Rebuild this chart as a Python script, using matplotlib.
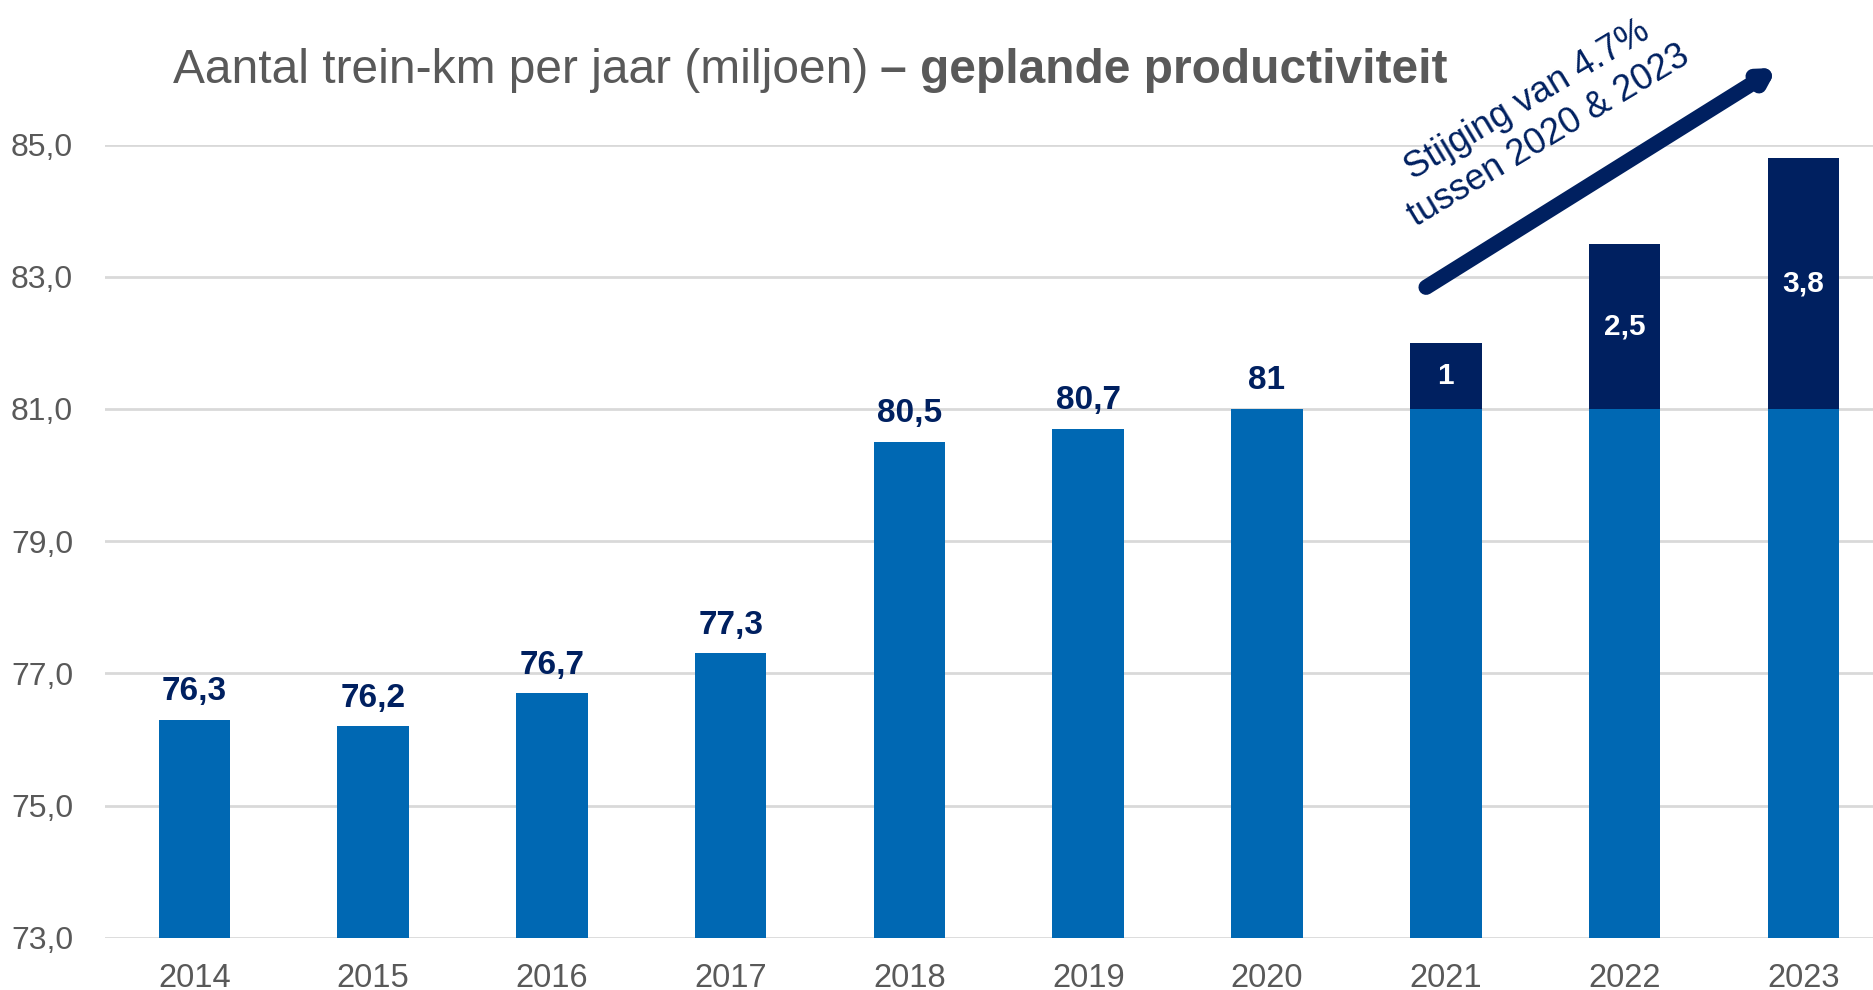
import matplotlib
matplotlib.use("Agg")
import matplotlib.pyplot as plt

# ---- data ----
years = ["2014", "2015", "2016", "2017", "2018", "2019", "2020", "2021", "2022", "2023"]
base_values = [76.3, 76.2, 76.7, 77.3, 80.5, 80.7, 81.0, 81.0, 81.0, 81.0]
extra_values = [0, 0, 0, 0, 0, 0, 0, 1.0, 2.5, 3.8]
base_labels = ["76,3", "76,2", "76,7", "77,3", "80,5", "80,7", "81", "", "", ""]
extra_labels = ["", "", "", "", "", "", "", "1", "2,5", "3,8"]
y_ticks = [73, 75, 77, 79, 81, 83, 85]
y_tick_labels = ["73,0", "75,0", "77,0", "79,0", "81,0", "83,0", "85,0"]

title_normal = "Aantal trein-km per jaar (miljoen)"
title_bold = "– geplande productiviteit"
arrow_text = "Stijging van 4.7%\ntussen 2020 & 2023"

BLUE = "#0068B3"
NAVY = "#002060"
GRAY = "#595959"
GRID = "#D9D9D9"

plt.rcParams['font.family'] = ['Liberation Sans', 'DejaVu Sans']

W, H = 1873, 990
fig = plt.figure(figsize=(W / 100, H / 100), dpi=100)
ax = fig.add_axes([105 / W, 1 - 937.7 / H, 1 - 105 / W, (937.7 - 144.5) / H])

x = list(range(len(years)))
ax.bar(x, [b - 73 for b in base_values], bottom=73, width=0.4, color=BLUE, zorder=3)
ax.bar(x, extra_values, bottom=base_values, width=0.4, color=NAVY, zorder=3)

ax.set_xlim(-0.5, 9.39)
ax.set_ylim(73, 85)
ax.set_yticks(y_ticks)
ax.set_yticklabels(y_tick_labels)
ax.set_xticks(x)
ax.set_xticklabels(years)
ax.tick_params(axis='both', length=0, labelsize=23.5, colors=GRAY)
ax.tick_params(axis='y', labelsize=23, pad=23)
ax.tick_params(axis='x', pad=18)
for s in ax.spines.values():
    s.set_visible(False)
ax.yaxis.grid(True, color=GRID, linewidth=2, zorder=0)
ax.set_axisbelow(True)

for xi, v, lab in zip(x, base_values, base_labels):
    if lab:
        ax.annotate(lab, (xi, v), xytext=(0, 9), textcoords='offset points',
                    ha='center', va='bottom', fontsize=24, fontweight='bold', color=NAVY)
for xi, b, e, lab in zip(x, base_values, extra_values, extra_labels):
    if lab:
        ax.text(xi, b + e / 2, lab, ha='center', va='center', fontsize=21.5,
                fontweight='bold', color='white', zorder=4)

# arrow
ax.annotate("", xy=(8.855, 86.16), xytext=(6.89, 82.84),
            arrowprops=dict(arrowstyle='-|>,head_length=0.7,head_width=0.4',
                            color=NAVY, lw=11, shrinkA=0, shrinkB=0),
            annotation_clip=False, zorder=5)
fig.text(1538 / W, 1 - 118 / H, arrow_text, rotation=31, ha='center', va='center',
         rotation_mode='anchor', fontsize=26, color=NAVY, linespacing=1.27)

# title
fig.text(868 / W, 1 - 83 / H, title_normal, ha='right', va='baseline',
         fontsize=34.5, color=GRAY)
fig.text(880 / W, 1 - 83 / H, title_bold, ha='left', va='baseline',
         fontsize=34.5, color=GRAY, fontweight='bold')

fig.savefig("out.png", dpi=100)
